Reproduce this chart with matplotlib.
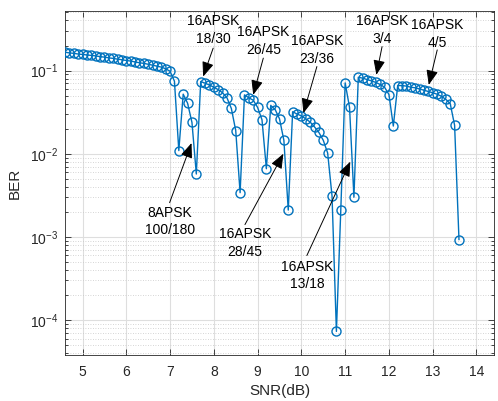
import numpy as np
import matplotlib
matplotlib.use("Agg")
import matplotlib.pyplot as plt
from matplotlib.ticker import LogLocator, NullFormatter

plt.rcParams['font.family'] = ['Liberation Sans', 'DejaVu Sans']
plt.rcParams['mathtext.fontset'] = 'custom'
plt.rcParams['mathtext.rm'] = 'Liberation Sans'
plt.rcParams['mathtext.it'] = 'Liberation Sans:italic'

# simulated BER per SNR step (ACM over DVB-S2X MODCODs)
snr = [4.6, 4.7, 4.8, 4.9, 5.0, 5.1, 5.2, 5.3, 5.4, 5.5,
       5.6, 5.7, 5.8, 5.9, 6.0, 6.1, 6.2, 6.3, 6.4, 6.5,
       6.6, 6.7, 6.8, 6.9, 7.0, 7.1, 7.2, 7.3, 7.4, 7.5,
       7.6, 7.7, 7.8, 7.9, 8.0, 8.1, 8.2, 8.3, 8.4, 8.5,
       8.6, 8.7, 8.8, 8.9, 9.0, 9.1, 9.2, 9.3, 9.4, 9.5,
       9.6, 9.7, 9.8, 9.9, 10.0, 10.1, 10.2, 10.3, 10.4, 10.5,
       10.6, 10.7, 10.8, 10.9, 11.0, 11.1, 11.2, 11.3, 11.4, 11.5,
       11.6, 11.7, 11.8, 11.9, 12.0, 12.1, 12.2, 12.3, 12.4, 12.5,
       12.6, 12.7, 12.8, 12.9, 13.0, 13.1, 13.2, 13.3, 13.4, 13.5,
       13.6]
ber = [0.166, 0.163, 0.161, 0.158, 0.156, 0.154, 0.152, 0.150, 0.147, 0.145,
       0.142, 0.140, 0.137, 0.135, 0.132, 0.130, 0.127, 0.124, 0.122, 0.119,
       0.116, 0.113, 0.110, 0.105, 0.098, 0.0745, 0.0109, 0.052, 0.0405, 0.0238,
       0.0057, 0.0738, 0.0705, 0.067, 0.063, 0.059, 0.054, 0.047, 0.035, 0.019,
       0.0034, 0.051, 0.047, 0.044, 0.036, 0.0256, 0.0066, 0.038, 0.034, 0.0263,
       0.0145, 0.0021, 0.032, 0.030, 0.0285, 0.0263, 0.024, 0.021, 0.018, 0.0145,
       0.0102, 0.0031, 0.000073, 0.0021, 0.071, 0.036, 0.0030, 0.083, 0.081, 0.078,
       0.075, 0.072, 0.068, 0.063, 0.0515, 0.0215, 0.066, 0.066, 0.065, 0.063,
       0.062, 0.060, 0.058, 0.056, 0.054, 0.052, 0.049, 0.045, 0.040, 0.022,
       0.00093]

# MODCOD labels: (text, text position, arrow tail, arrow head)
labels = [
    ("16APSK\n18/30",   (7.985, 0.304),   (7.985, 0.186),   (7.756, 0.0847)),
    ("16APSK\n26/45",   (9.13, 0.2275),   (9.13, 0.141),    (8.90, 0.051)),
    ("16APSK\n23/36",   (10.354, 0.1746), (10.354, 0.1117), (10.047, 0.0308)),
    ("16APSK\n3/4",     (11.843, 0.308),  (11.843, 0.194),  (11.713, 0.0888)),
    ("16APSK\n4/5",     (13.103, 0.277),  (13.103, 0.177),  (12.91, 0.0673)),
    ("8APSK\n100/180",  (6.99, 0.00153),  (6.99, 0.00258),  (7.49, 0.01343)),
    ("16APSK\n28/45",   (8.711, 0.000848), (8.711, 0.001406), (9.589, 0.0100)),
    ("16APSK\n13/18",   (10.125, 0.000343), (10.125, 0.000597), (11.117, 0.00802)),
]

dark = '#262626'
fig = plt.figure(figsize=(4.98, 4.01), dpi=100)
ax = fig.add_axes([65 / 498, 46 / 401, 429 / 498, 344 / 401])

ax.semilogy(snr, ber, '-o', color='#0072BD', lw=1.0, ms=6.5, mew=1.0,
            mfc='none', zorder=3)

ax.set_xlim(4.6, 14.4)
ax.set_ylim(3.8e-5, 0.52)
ax.set_xticks(range(5, 15))
ax.yaxis.set_major_locator(LogLocator(base=10, numticks=10))
ax.yaxis.set_minor_locator(LogLocator(base=10, subs=np.arange(2, 10), numticks=10))
ax.yaxis.set_minor_formatter(NullFormatter())

ax.grid(True, which='major', color='#dedede', lw=0.8)
ax.grid(True, which='minor', axis='y', color='#c8c8c8', lw=0.6, ls=(0, (1, 2)))
ax.set_axisbelow(True)

ax.tick_params(which='both', direction='in', top=True, right=True,
               colors=dark, labelsize=10, width=0.6)
ax.tick_params(which='major', length=4)
ax.tick_params(which='minor', length=2)
ax.tick_params(axis='x', pad=7)
ax.tick_params(axis='y', pad=5)
for s in ax.spines.values():
    s.set_color(dark)
    s.set_linewidth(0.6)

ax.set_xlabel('SNR(dB)', fontsize=11, color=dark, labelpad=4)
ax.set_ylabel('BER', fontsize=11, color=dark, labelpad=6)

for text, tpos, tail, head in labels:
    ax.text(*tpos, text, ha='center', va='center', fontsize=10,
            linespacing=1.35, color='black', zorder=5)
    ax.annotate('', xy=head, xytext=tail,
                arrowprops=dict(arrowstyle='-|>,head_length=0.75,head_width=0.3',
                                mutation_scale=12, color='black', lw=0.7,
                                shrinkA=0, shrinkB=0), zorder=5)

fig.savefig('out.png', dpi=100)
